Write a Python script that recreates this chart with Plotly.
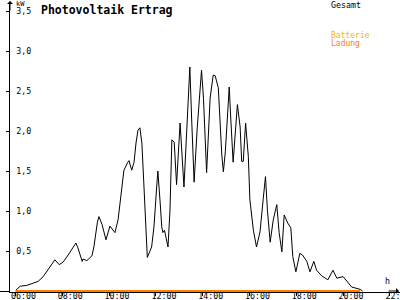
import plotly.graph_objects as go

DAY = "2024-06-01 "

gesamt_times = [
    "06:01", "06:12", "06:29", "06:45", "06:58", "07:11", "07:23", "07:36", "07:41", "07:52",
    "08:02", "08:15", "08:25", "08:35", "08:40", "08:51", "08:53", "09:03", "09:16", "09:21",
    "09:30", "09:34", "09:42", "09:52", "10:02", "10:15", "10:23", "10:32", "10:38", "10:48",
    "10:51", "10:58", "11:04", "11:09", "11:14", "11:19", "11:24", "11:29", "11:35", "11:38",
    "11:49", "11:55", "12:02", "12:05", "12:11", "12:15", "12:18", "12:22", "12:31", "12:36",
    "12:41", "12:47", "12:53", "13:02", "13:12", "13:27", "13:32", "13:38", "13:46", "13:57",
    "14:02", "14:10", "14:19", "14:27", "14:32", "14:40", "14:49", "14:53", "14:58", "15:08",
    "15:11", "15:18", "15:29", "15:36", "15:40", "15:44", "15:50", "15:57", "16:01", "16:10",
    "16:18", "16:27", "16:35", "16:41", "16:46", "16:53", "17:01", "17:10", "17:16", "17:23",
    "17:29", "17:38", "17:46", "17:51", "17:59", "18:09", "18:16", "18:27", "18:35", "18:45",
    "18:52", "19:05", "19:21", "19:31", "19:34", "19:44", "20:00", "20:22", "20:44", "20:50",
]
gesamt_kw = [
    0.01, 0.06, 0.07, 0.10, 0.12, 0.18, 0.27, 0.36, 0.39, 0.33,
    0.36, 0.45, 0.52, 0.60, 0.54, 0.37, 0.40, 0.38, 0.44, 0.55,
    0.86, 0.93, 0.83, 0.64, 0.81, 0.73, 0.89, 1.30, 1.51, 1.61,
    1.63, 1.51, 1.61, 1.85, 2.01, 2.04, 1.85, 1.35, 0.76, 0.42,
    0.55, 0.80, 1.30, 1.50, 1.10, 0.80, 0.73, 0.76, 0.55, 1.00,
    1.89, 1.86, 1.33, 2.10, 1.30, 2.80, 2.11, 1.36, 2.04, 2.76,
    2.41, 1.48, 2.41, 2.70, 2.69, 2.54, 1.70, 1.49, 1.74, 2.55,
    2.25, 1.61, 2.33, 2.05, 1.62, 1.62, 2.10, 1.68, 1.14, 0.76,
    0.55, 0.74, 1.14, 1.43, 1.01, 0.61, 0.89, 1.08, 0.73, 0.49,
    0.95, 0.85, 0.79, 0.43, 0.24, 0.47, 0.45, 0.37, 0.24, 0.37,
    0.26, 0.19, 0.14, 0.25, 0.26, 0.16, 0.18, 0.05, 0.02, 0.00,
]
ladung_times = ["06:00", "20:44"]
ladung_kw = [0.0, 0.0]

y_ticks = [0.5, 1.0, 1.5, 2.0, 2.5, 3.0, 3.5]
x_ticks = ["06:00", "08:00", "10:00", "12:00", "14:00", "16:00", "18:00", "20:00", "22:00"]

MONO = "DejaVu Sans Mono"

fig = go.Figure()
fig.add_trace(go.Scatter(
    x=[DAY + t for t in gesamt_times], y=gesamt_kw, mode="lines",
    line=dict(color="black", width=1), name="Gesamt", showlegend=False))
fig.add_trace(go.Scatter(
    x=[DAY + t for t in ladung_times], y=ladung_kw, mode="lines",
    line=dict(color="#FF8000", width=2), name="Ladung", showlegend=False))

# plot area: x from px 10 to 400, y from px 3 to 292 (zero at px 291)
fig.update_layout(
    width=400, height=300,
    margin=dict(l=10, r=0, t=3, b=8, autoexpand=False),
    paper_bgcolor="white", plot_bgcolor="white",
    separators=",.",
    font=dict(family=MONO, size=8, color="black"),
)
fig.update_xaxes(
    type="date", automargin=False,
    range=[DAY + "05:45:54", DAY + "22:25:55"],
    tickvals=[DAY + t for t in x_ticks], tickformat="%H:%M",
    ticks="outside", ticklen=3, tickcolor="black", tickwidth=1,
    ticklabelshift=8, ticklabelstandoff=-7, ticklabeloverflow="allow",
    showline=True, linecolor="black", linewidth=1,
    showgrid=False, zeroline=False, layer="below traces",
    tickfont=dict(family=MONO, size=8.3, color="black"),
)
fig.update_yaxes(
    automargin=False,
    range=[-0.0125, 3.6],
    tickvals=y_ticks, tickformat=".1f",
    ticks="outside", ticklen=3, tickcolor="black", tickwidth=1,
    ticklabelposition="outside", ticklabelstandoff=-27, ticklabeloverflow="allow",
    showline=True, linecolor="black", linewidth=1,
    showgrid=False, zeroline=False,
    tickfont=dict(family=MONO, size=8.3, color="black"),
)

def px(x):
    return (x - 10) / 390.0

def py(y):
    return (292 - y) / 289.0

annotations = [
    dict(text="<b>Photovoltaik Ertrag</b>", x=px(39), y=py(9.5), xanchor="left", yanchor="middle",
         font=dict(family=MONO, size=11.5, color="black")),
    dict(text="kW", x=px(14), y=py(4), xanchor="left", yanchor="middle",
         font=dict(family=MONO, size=7, color="black")),
    dict(text="Gesamt", x=px(329), y=py(5), xanchor="left", yanchor="middle",
         font=dict(family=MONO, size=8.3, color="black")),
    dict(text="Batterie", x=px(329), y=py(35.5), xanchor="left", yanchor="middle",
         font=dict(family=MONO, size=8, color="#FFB000")),
    dict(text="Ladung", x=px(329), y=py(44), xanchor="left", yanchor="middle",
         font=dict(family=MONO, size=8, color="#FF8000")),
    dict(text="h", x=px(387), y=py(281), xanchor="center", yanchor="middle",
         font=dict(family=MONO, size=8.3, color="black")),
]
for a in annotations:
    a.update(xref="paper", yref="paper", showarrow=False)
    fig.add_annotation(**a)

# axis arrows
fig.add_annotation(xref="paper", yref="paper", x=px(10), y=py(0), ax=0, ay=12,
                   text="", showarrow=True, arrowhead=1, arrowsize=1, arrowwidth=1, arrowcolor="black")
fig.add_annotation(xref="paper", yref="paper", x=px(399), y=py(291), ax=-12, ay=0,
                   text="", showarrow=True, arrowhead=1, arrowsize=1, arrowwidth=1, arrowcolor="black")
# axis line extension left of the y axis
fig.add_shape(type="line", xref="paper", yref="paper", x0=px(0), x1=px(10), y0=py(291.5), y1=py(291.5),
              line=dict(color="black", width=1))

fig.write_html("out.html")
